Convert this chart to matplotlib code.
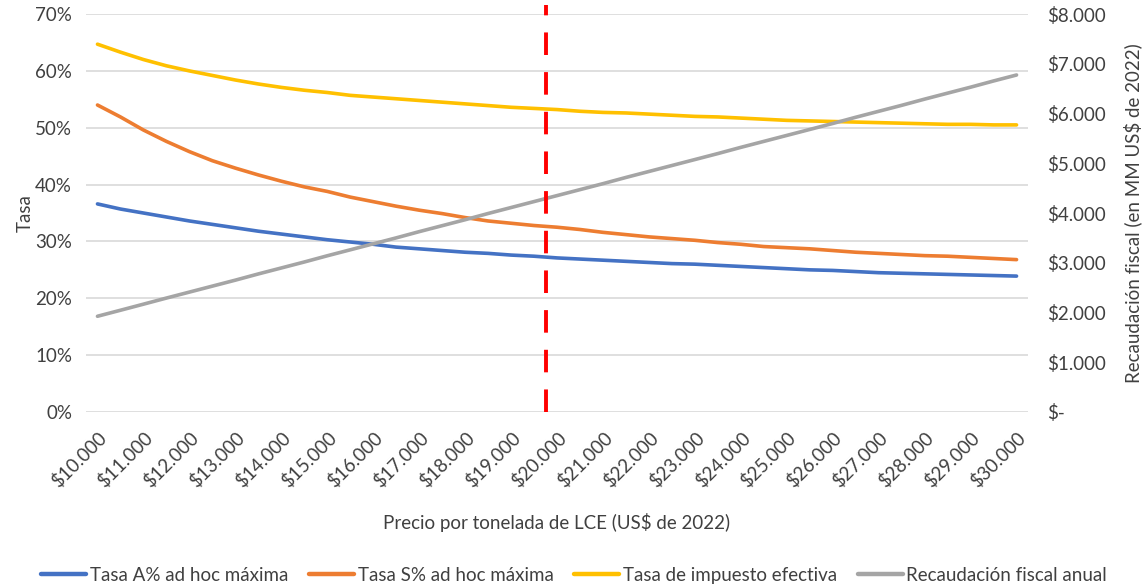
import numpy as np
import matplotlib
matplotlib.use("Agg")
import matplotlib.pyplot as plt
from matplotlib.ticker import FuncFormatter

plt.rcParams['font.family'] = ['Lato', 'DejaVu Sans']

# precio por tonelada (US$ de 2022), pasos de 500
precios = list(range(10000, 30001, 500))

tasa_a = [36.6, 35.7, 35.0, 34.3, 33.6, 33.0, 32.4, 31.8, 31.3, 30.8,
          30.3, 29.9, 29.5, 29.0, 28.7, 28.4, 28.1, 27.9, 27.6, 27.4,
          27.1, 26.9, 26.7, 26.5, 26.3, 26.1, 26.0, 25.8, 25.6, 25.4,
          25.2, 25.0, 24.9, 24.7, 24.5, 24.4, 24.3, 24.2, 24.1, 24.0, 23.9]

tasa_s = [54.0, 51.9, 49.6, 47.6, 45.8, 44.2, 42.9, 41.7, 40.6, 39.6,
          38.8, 37.8, 37.0, 36.2, 35.5, 34.9, 34.2, 33.6, 33.2, 32.8,
          32.5, 32.1, 31.6, 31.2, 30.8, 30.5, 30.2, 29.8, 29.5, 29.1,
          28.9, 28.7, 28.4, 28.1, 27.9, 27.7, 27.5, 27.4, 27.2, 27.0, 26.8]

tasa_efectiva = [64.7, 63.3, 62.0, 60.9, 60.0, 59.2, 58.4, 57.7, 57.1, 56.6,
                 56.2, 55.7, 55.4, 55.1, 54.8, 54.5, 54.2, 53.9, 53.6, 53.4,
                 53.2, 52.9, 52.7, 52.6, 52.4, 52.2, 52.0, 51.9, 51.7, 51.5,
                 51.3, 51.2, 51.1, 51.0, 50.9, 50.8, 50.7, 50.6, 50.6, 50.5, 50.5]

recaudacion = [1924, 2045, 2167, 2290, 2410, 2530, 2650, 2775, 2895, 3015,
               3140, 3260, 3380, 3500, 3625, 3745, 3865, 3990, 4110, 4230,
               4350, 4470, 4590, 4715, 4835, 4955, 5075, 5195, 5320, 5440,
               5560, 5680, 5800, 5925, 6045, 6165, 6290, 6410, 6530, 6655, 6775]

precio_ref = 19750
tick_precios = list(range(10000, 30001, 1000))


def miles(v):
    return "{:,.0f}".format(v).replace(",", ".")


fig = plt.figure(figsize=(11.48, 5.86), dpi=100)
ax = fig.add_axes([0.0749, 0.297, 0.8206, 0.679])
ax2 = ax.twinx()

txt = '#404040'
fs = 13.5
ax.plot(precios, np.array(tasa_a) / 100, color='#4472C4', lw=2.6, solid_capstyle='round', label='Tasa A% ad hoc máxima')
ax.plot(precios, np.array(tasa_s) / 100, color='#ED7D31', lw=2.6, solid_capstyle='round', label='Tasa S% ad hoc máxima')
ax.plot(precios, np.array(tasa_efectiva) / 100, color='#FFC000', lw=2.6, solid_capstyle='round', label='Tasa de impuesto efectiva')
ax2.plot(precios, recaudacion, color='#A5A5A5', lw=2.6, solid_capstyle='round', label='Recaudación fiscal anual')
ax2.axvline(precio_ref, ymin=0, ymax=1.022, color='#FF0000', lw=2.8,
            dashes=(5.8, 4.4), clip_on=False, zorder=5)

ax.set_xlim(9750, 30250)
ax.set_ylim(0, 0.70)
ax.set_yticks(np.arange(0, 0.71, 0.1))
ax.yaxis.set_major_formatter(FuncFormatter(lambda v, p: "{:.0f}%".format(v * 100)))
ax2.set_ylim(0, 8000)
ax2.set_yticks(range(0, 8001, 1000))
ax2.yaxis.set_major_formatter(FuncFormatter(lambda v, p: "$-" if v == 0 else "$" + miles(v)))

ax.set_xticks(tick_precios)
ax.set_xticklabels(["$" + miles(p) for p in tick_precios], rotation=45,
                   ha='right', rotation_mode='anchor')

ax.grid(axis='y', color='#D9D9D9', lw=1.2)
ax.set_axisbelow(True)
for a in (ax, ax2):
    for s in a.spines.values():
        s.set_visible(False)
    a.tick_params(length=0, labelsize=fs, colors=txt)
ax.tick_params(axis='x', pad=12)
ax.tick_params(axis='y', pad=10)
ax2.tick_params(axis='y', pad=14)

ax.set_ylabel("Tasa", fontsize=fs, color=txt, labelpad=1)
ax2.set_ylabel("Recaudación fiscal (en MM US$ de 2022)", fontsize=fs, color=txt, labelpad=12)
ax.set_xlabel("Precio por tonelada de LCE (US$ de 2022)", fontsize=fs, color=txt, labelpad=16)

h1, l1 = ax.get_legend_handles_labels()
h2, l2 = ax2.get_legend_handles_labels()
leg = fig.legend(h1 + h2, l1 + l2, loc='lower center', bbox_to_anchor=(0.5, -0.025),
                 ncol=4, frameon=False, fontsize=fs, handlelength=2.4,
                 handletextpad=0.2, columnspacing=1.1, labelcolor=txt)
for ln in leg.get_lines():
    ln.set_linewidth(3.2)

fig.savefig("out.png", dpi=100)
